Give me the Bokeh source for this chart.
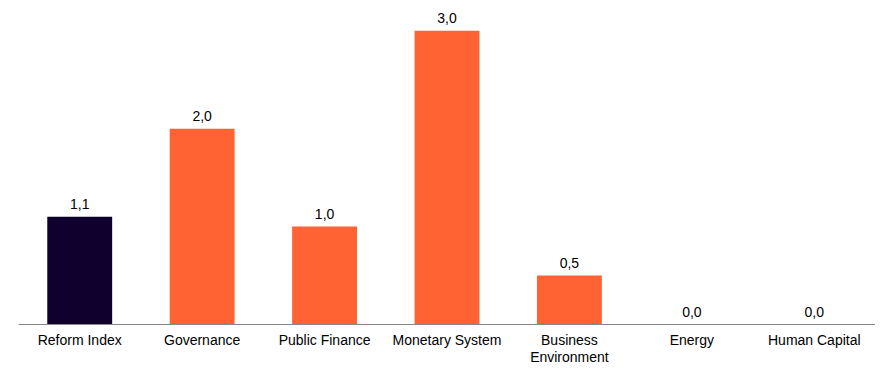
from bokeh.plotting import figure
from bokeh.models import ColumnDataSource, Range1d
from bokeh.embed import file_html
from bokeh.resources import INLINE
from bokeh.core.properties import value

categories = ["Reform Index", "Governance", "Public Finance", "Monetary System",
              "Business\nEnvironment", "Energy", "Human Capital"]
values = [1.1, 2.0, 1.0, 3.0, 0.5, 0.0, 0.0]
colors = ["#10002e", "#ff6333", "#ff6333", "#ff6333", "#ff6333", "#ff6333", "#ff6333"]
labels = [f"{v:.1f}".replace(".", ",") for v in values]

src = ColumnDataSource(dict(cat=categories, val=values, color=colors, label=labels))

p = figure(x_range=categories, y_range=Range1d(0, 3.31), width=875, height=368,
           output_backend="svg", toolbar_location=None,
           min_border_left=18, min_border_right=0, min_border_top=0, min_border_bottom=10)
p.vbar(x="cat", top="val", width=0.53, color="color", source=src, line_color=None)
p.text(x="cat", y="val", text="label", source=src, text_align="center",
       text_baseline="bottom", y_offset=-8, text_font=value("Liberation Sans"),
       text_font_size="14px", text_color="#000000")

p.yaxis.visible = False
p.xgrid.visible = False
p.ygrid.visible = False
p.outline_line_color = None
p.xaxis.axis_line_color = "#888888"
p.xaxis.axis_line_width = 1
p.xaxis.major_tick_line_color = None
p.xaxis.minor_tick_line_color = None
p.xaxis.major_label_text_font = "Liberation Sans"
p.xaxis.major_label_text_font_size = "14px"
p.xaxis.major_label_text_color = "#000000"
p.xaxis.major_label_standoff = 1
p.xaxis.major_label_text_line_height = 1.1
p.x_range.range_padding = 0

open("out.html", "w").write(file_html(p, INLINE))
